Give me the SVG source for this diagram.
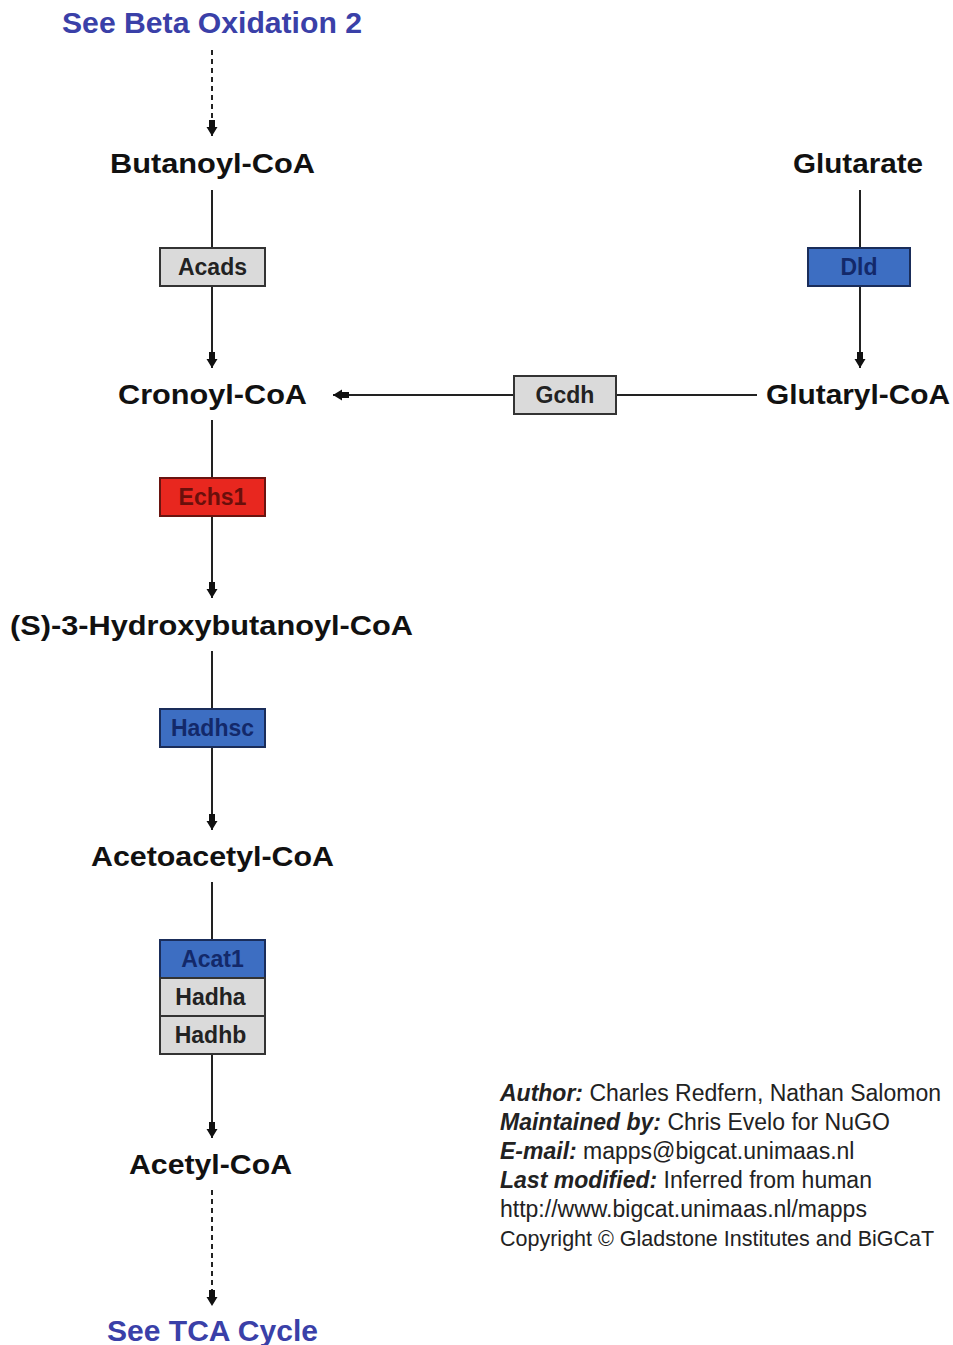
<svg xmlns="http://www.w3.org/2000/svg" width="953" height="1345" viewBox="0 0 953 1345">
<style>
.met{font-family:"Liberation Sans",Arial,sans-serif;font-weight:bold;font-size:28px;fill:#111;text-anchor:middle}
.link{font-family:"Liberation Sans",Arial,sans-serif;font-weight:bold;font-size:29px;fill:#3a40a8;text-anchor:middle}
.gene{font-family:"Liberation Sans",Arial,sans-serif;font-weight:bold;font-size:23px;text-anchor:middle}
.gray{fill:#dadada;stroke:#333;stroke-width:2}
.blue{fill:#3d6ec2;stroke:#1a2d5a;stroke-width:2}
.red{fill:#e8271f;stroke:#6a1410;stroke-width:2}
.tg{fill:#222}
.tb{fill:#13296a}
.tr{fill:#6a0f0b}
.edge{stroke:#222;stroke-width:2;fill:none}
.dash{stroke-dasharray:5,4}
.leg{font-family:"Liberation Sans",Arial,sans-serif;font-size:23px;fill:#222}
.legb{font-weight:bold;font-style:italic}
</style>
<defs>
<marker id="arr" markerUnits="userSpaceOnUse" markerWidth="17" markerHeight="13" viewBox="0 0 17 13" refX="16" refY="6.5" orient="auto">
<path d="M0,3.5 L7,3.5 L7,1 L16,6.5 L7,12 L7,9.5 L0,9.5 z" fill="#111"/>
</marker>
</defs>
<rect width="953" height="1345" fill="#fff"/>
<g id="connectors">
<line class="edge dash" x1="212" y1="50" x2="212" y2="136" marker-end="url(#arr)"/>
<line class="edge" x1="212" y1="190" x2="212" y2="248"/>
<line class="edge" x1="212" y1="286" x2="212" y2="368" marker-end="url(#arr)"/>
<line class="edge" x1="860" y1="190" x2="860" y2="248"/>
<line class="edge" x1="860" y1="286" x2="860" y2="368" marker-end="url(#arr)"/>
<line class="edge" x1="757" y1="395" x2="616" y2="395"/>
<line class="edge" x1="514" y1="395" x2="333" y2="395" marker-end="url(#arr)"/>
<line class="edge" x1="212" y1="420" x2="212" y2="478"/>
<line class="edge" x1="212" y1="516" x2="212" y2="598" marker-end="url(#arr)"/>
<line class="edge" x1="212" y1="651" x2="212" y2="709"/>
<line class="edge" x1="212" y1="747" x2="212" y2="830" marker-end="url(#arr)"/>
<line class="edge" x1="212" y1="882" x2="212" y2="940"/>
<line class="edge" x1="212" y1="1054" x2="212" y2="1138" marker-end="url(#arr)"/>
<line class="edge dash" x1="212" y1="1190" x2="212" y2="1306" marker-end="url(#arr)"/>
</g>
<g id="see-beta-oxidation-2"><text class="link" x="212" y="33" textLength="300" lengthAdjust="spacingAndGlyphs">See Beta Oxidation 2</text></g>
<g id="butanoyl-coa"><text class="met" x="212.5" y="173" textLength="205" lengthAdjust="spacingAndGlyphs">Butanoyl-CoA</text></g>
<g id="glutarate"><text class="met" x="858" y="173" textLength="130" lengthAdjust="spacingAndGlyphs">Glutarate</text></g>
<g id="acads"><rect class="gray" x="160" y="248" width="105" height="38"/><text class="gene tg" x="212.5" y="275">Acads</text></g>
<g id="dld"><rect class="blue" x="808" y="248" width="102" height="38"/><text class="gene tb" x="859" y="275">Dld</text></g>
<g id="cronoyl-coa"><text class="met" x="212.5" y="404" textLength="189" lengthAdjust="spacingAndGlyphs">Cronoyl-CoA</text></g>
<g id="gcdh"><rect class="gray" x="514" y="376" width="102" height="38"/><text class="gene tg" x="565" y="403">Gcdh</text></g>
<g id="glutaryl-coa"><text class="met" x="858" y="404" textLength="184" lengthAdjust="spacingAndGlyphs">Glutaryl-CoA</text></g>
<g id="echs1"><rect class="red" x="160" y="478" width="105" height="38"/><text class="gene tr" x="212.5" y="505">Echs1</text></g>
<g id="s-3-hydroxybutanoyl-coa"><text class="met" x="211.5" y="635" textLength="403" lengthAdjust="spacingAndGlyphs">(S)-3-Hydroxybutanoyl-CoA</text></g>
<g id="hadhsc"><rect class="blue" x="160" y="709" width="105" height="38"/><text class="gene tb" x="212.5" y="736">Hadhsc</text></g>
<g id="acetoacetyl-coa"><text class="met" x="212.5" y="866" textLength="243" lengthAdjust="spacingAndGlyphs">Acetoacetyl-CoA</text></g>
<g id="acat1"><rect class="blue" x="160" y="940" width="105" height="38"/><text class="gene tb" x="212.5" y="967">Acat1</text></g>
<g id="hadha"><rect class="gray" x="160" y="978" width="105" height="38"/><text class="gene tg" x="210.5" y="1005">Hadha</text></g>
<g id="hadhb"><rect class="gray" x="160" y="1016" width="105" height="38"/><text class="gene tg" x="210.5" y="1043">Hadhb</text></g>
<g id="acetyl-coa"><text class="met" x="210.5" y="1174" textLength="163" lengthAdjust="spacingAndGlyphs">Acetyl-CoA</text></g>
<g id="see-tca-cycle"><text class="link" x="212.5" y="1341" textLength="211" lengthAdjust="spacingAndGlyphs">See TCA Cycle</text></g>
<g id="legend">
<text class="leg" x="500" y="1101"><tspan class="legb">Author:</tspan> Charles Redfern, Nathan Salomon</text>
<text class="leg" x="500" y="1130"><tspan class="legb">Maintained by:</tspan> Chris Evelo for NuGO</text>
<text class="leg" x="500" y="1159"><tspan class="legb">E-mail:</tspan> mapps@bigcat.unimaas.nl</text>
<text class="leg" x="500" y="1188"><tspan class="legb">Last modified:</tspan> Inferred from human</text>
<text class="leg" x="500" y="1217">http://www.bigcat.unimaas.nl/mapps</text>
<text class="leg" x="500" y="1246" style="font-size:21.5px">Copyright © Gladstone Institutes and BiGCaT</text>
</g>
</svg>
